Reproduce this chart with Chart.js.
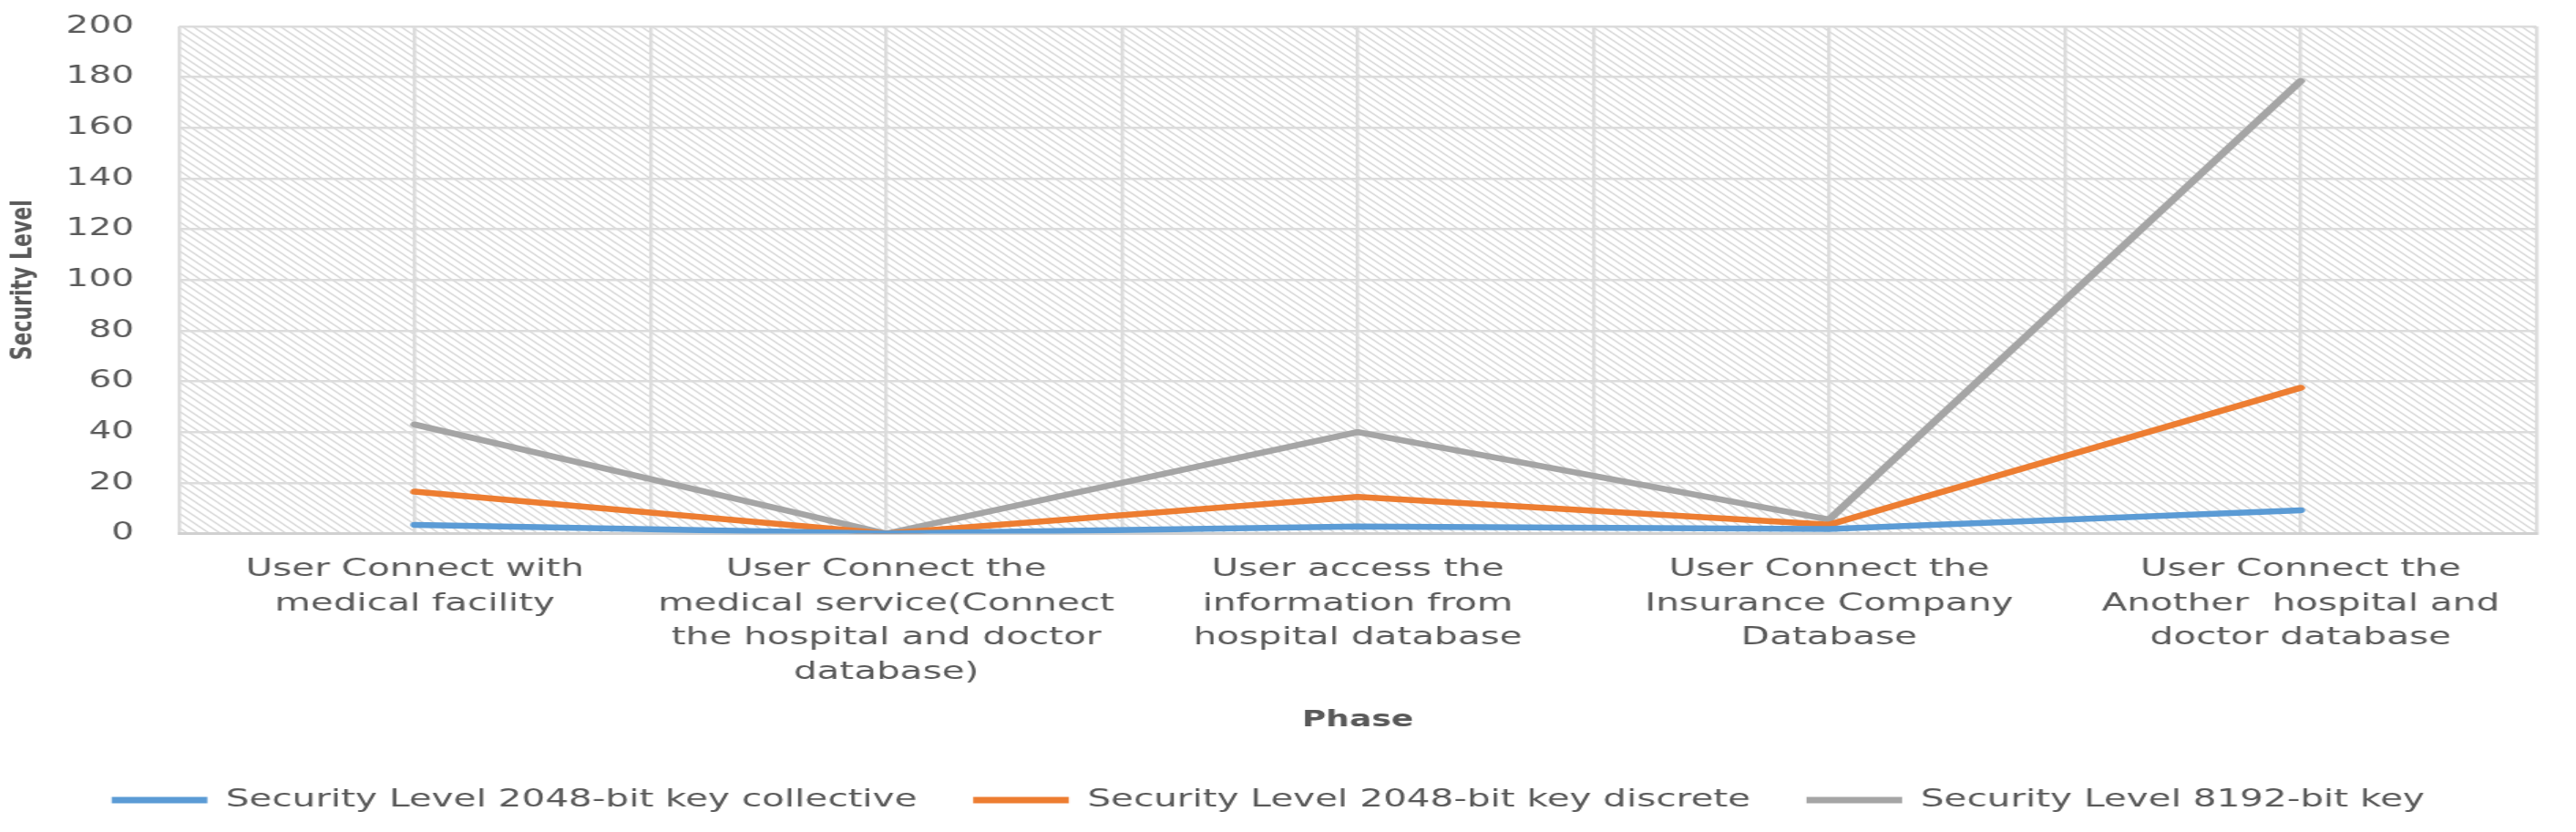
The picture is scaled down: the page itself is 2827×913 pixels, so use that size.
<!DOCTYPE html>
<html>
<head>
<meta charset="utf-8">
<script src="https://cdn.jsdelivr.net/npm/chart.js@4.4.1/dist/chart.umd.min.js"></script>
<style>
    html, body { margin: 0; padding: 0; background: #fff; overflow: hidden; }
    #wrap { width: 1885px; height: 913px; transform: scaleX(1.4997); transform-origin: 0 0; }
</style>
</head>
<body>
<div id="wrap"><canvas id="chart" width="1885" height="913"></canvas></div>
<script>
const categories = [
    ["User Connect with", "medical facility"],
    ["User Connect the", "medical service(Connect", "the hospital and doctor", "database)"],
    ["User access the", "information from", "hospital database"],
    ["User Connect the", "Insurance Company", "Database"],
    ["User Connect the", "Another  hospital and", "doctor database"]
];
const seriesNames = [
    "Security Level 2048-bit key collective",
    "Security Level 2048-bit key discrete",
    "Security Level 8192-bit key"
];
const collective = [3.4, 0, 2.8, 1.8, 9.2];
const discrete = [16.5, 0, 14.5, 3.5, 57.5];
const bit8192 = [43, 0, 40, 5.5, 178.5];
const yTicks = [0, 20, 40, 60, 80, 100, 120, 140, 160, 180, 200];

const textColor = '#595959';
const gridColor = '#dcdcdc';
const fontFamily = 'DejaVu Sans';

function points(values) {
    return values.map(function (v, i) {
        return { x: i, y: v };
    });
}

function makePattern(ctx) {
    const c = document.createElement('canvas');
    c.width = 8;
    c.height = 8;
    const p = c.getContext('2d');
    p.strokeStyle = '#d6d6d6';
    p.lineWidth = 1.3;
    p.beginPath();
    p.moveTo(0, 0); p.lineTo(8, 8);
    p.moveTo(-2, 6); p.lineTo(2, 10);
    p.moveTo(6, -2); p.lineTo(10, 2);
    p.stroke();
    return ctx.createPattern(c, 'repeat');
}

// white page + hatched plot area, drawn under the grid
const hatch = {
    id: 'hatch',
    beforeDraw(chart) {
        const ctx = chart.ctx;
        const a = chart.chartArea;
        ctx.save();
        ctx.fillStyle = '#fff';
        ctx.fillRect(0, 0, chart.width, chart.height);
        ctx.fillStyle = makePattern(ctx);
        ctx.fillRect(a.left, a.top, a.right - a.left, a.bottom - a.top);
        ctx.restore();
    }
};

function makeDataset(label, values, color) {
    return {
        label: label,
        data: points(values),
        borderColor: color,
        backgroundColor: color,
        borderWidth: 6.5,
        pointRadius: 0,
        tension: 0,
        borderCapStyle: 'round',
        borderJoinStyle: 'round'
    };
}

const config = {
    type: 'line',
    data: {
        datasets: [
            makeDataset(seriesNames[0], collective, '#5b9bd5'),
            makeDataset(seriesNames[1], discrete, '#ed7d31'),
            makeDataset(seriesNames[2], bit8192, '#a5a5a5')
        ]
    },
    options: {
        responsive: false,
        animation: false,
        devicePixelRatio: 1,
        layout: { padding: { top: 29, right: 29, bottom: 11.5, left: 0 } },
        plugins: {
            tooltip: { enabled: false },
            legend: {
                position: 'bottom',
                labels: {
                    usePointStyle: true,
                    pointStyle: 'line',
                    pointStyleWidth: 70,
                    padding: 41,
                    color: textColor,
                    font: { family: fontFamily, size: 27 },
                    generateLabels: function (chart) {
                        const items = Chart.defaults.plugins.legend.labels.generateLabels(chart);
                        items.forEach(function (it) { it.lineWidth = 7; });
                        return items;
                    }
                }
            }
        },
        scales: {
            x: {
                type: 'linear',
                min: -0.5,
                max: 4.5,
                afterBuildTicks: function (scale) {
                    const t = [];
                    for (let i = 0; i <= 10; i++) t.push({ value: -0.5 + i * 0.5 });
                    scale.ticks = t;
                },
                afterFit: function (scale) { scale.height = 238; },
                grid: { color: gridColor, lineWidth: 2.5, drawTicks: false },
                border: { color: '#d0d0d0', width: 3 },
                ticks: {
                    autoSkip: false,
                    maxRotation: 0,
                    padding: 21,
                    color: textColor,
                    font: { family: fontFamily, size: 27, lineHeight: 1.39 },
                    callback: function (value) {
                        return Number.isInteger(value) ? categories[value] : '';
                    }
                },
                title: {
                    display: true,
                    text: 'Phase',
                    color: textColor,
                    padding: { top: 10, bottom: 18 },
                    font: { family: fontFamily, size: 24, weight: 'bold' }
                }
            },
            y: {
                min: 0,
                max: 200,
                afterBuildTicks: function (scale) {
                    scale.ticks = yTicks.map(function (v) { return { value: v }; });
                },
                afterFit: function (scale) { scale.width = 131; },
                // invisible tick marks give the gap between labels and plot
                grid: { color: gridColor, lineWidth: 2.5, drawTicks: true, tickLength: 30, tickColor: 'rgba(0,0,0,0)' },
                border: { display: false },
                ticks: {
                    padding: 3,
                    color: textColor,
                    font: { family: fontFamily, size: 26 }
                },
                title: {
                    display: true,
                    text: 'Security Level',
                    color: textColor,
                    padding: { top: 4, bottom: 4 },
                    font: { family: fontFamily, size: 22, weight: 'bold' }
                }
            }
        }
    },
    plugins: [hatch]
};

new Chart(document.getElementById('chart'), config);
</script>
</body>
</html>
